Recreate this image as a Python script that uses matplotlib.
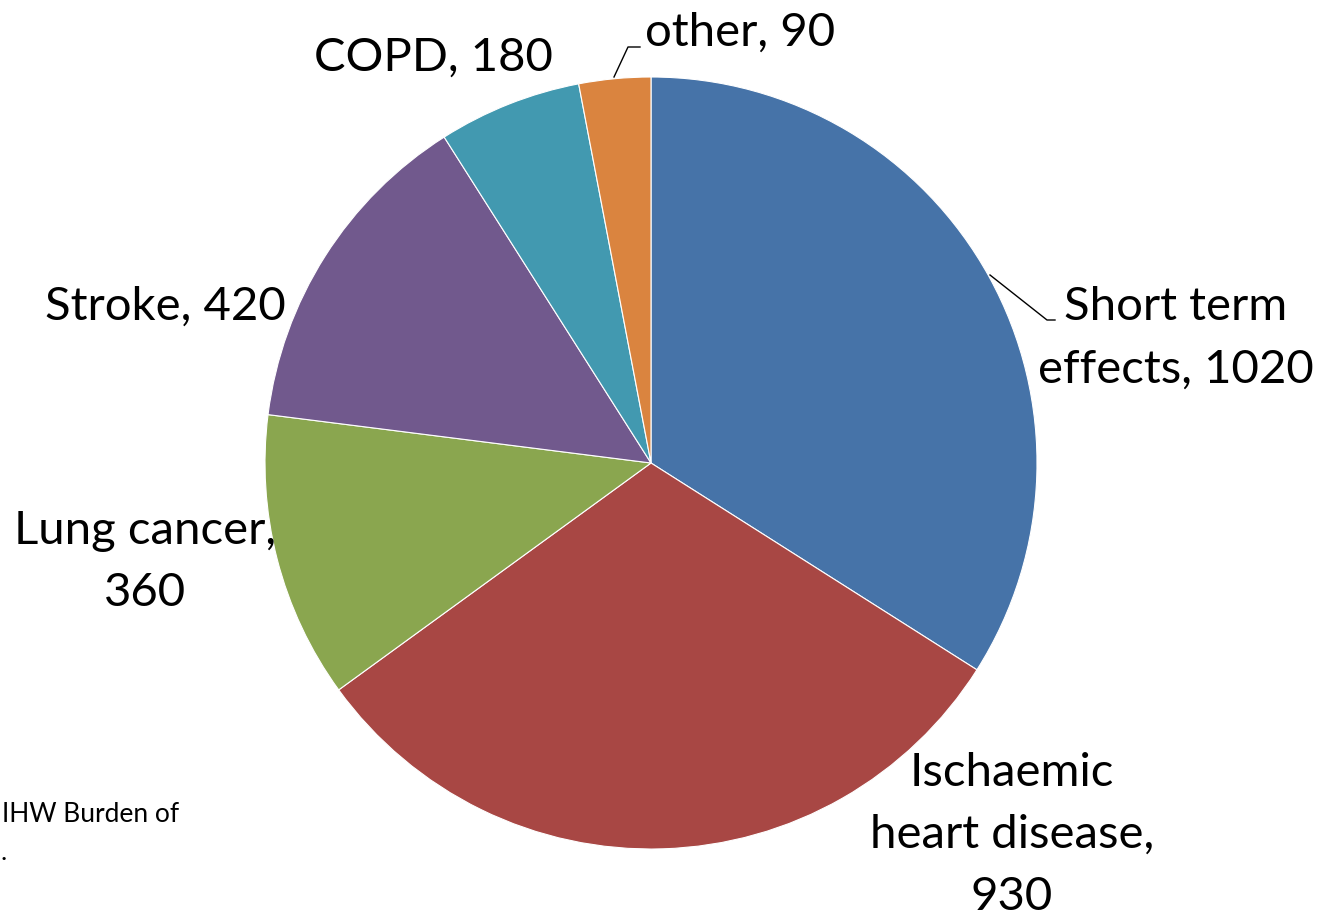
import matplotlib.pyplot as plt

plt.rcParams['font.family'] = ['Lato', 'DejaVu Sans']

# Data (clockwise from 12 o'clock)
labels = ['Short term\neffects, 1020', 'Ischaemic\nheart disease,\n930', 'Lung cancer,\n360',
          'Stroke, 420', 'COPD, 180', 'other, 90']
values = [1020, 930, 360, 420, 180, 90]
colors = ['#4673A8', '#A84744', '#8AA64F', '#71598D', '#4299B0', '#DA843F']

W, H = 1319, 921
fig = plt.figure(figsize=(W / 100, H / 100), dpi=100)
ax = fig.add_axes([0, 0, 1, 1])


def y(v):
    # image rows -> data y
    return H - v


ax.pie(values, colors=colors, startangle=90, counterclock=False,
       center=(651, y(463)), radius=386, frame=True,
       wedgeprops=dict(edgecolor='white', linewidth=0.8))
ax.set_xlim(0, W)
ax.set_ylim(0, H)
ax.set_aspect('equal')
ax.axis('off')

fs = 34
ls = 1.6
# label positions (image pixels)
ax.text(1176, y(338), labels[0], ha='center', va='center', fontsize=fs, linespacing=ls)
ax.text(1012, y(835), labels[1], ha='center', va='center', fontsize=fs, linespacing=ls)
ax.text(145, y(562), labels[2], ha='center', va='center', fontsize=fs, linespacing=ls)
ax.text(165, y(307), labels[3], ha='center', va='center', fontsize=fs)
ax.text(433, y(58), labels[4], ha='center', va='center', fontsize=fs)
ax.text(740, y(33), labels[5], ha='center', va='center', fontsize=fs)

# leader lines
ax.plot([990, 1047, 1055], [y(275), y(320), y(320)], color='black', lw=1)
ax.plot([614, 628, 640], [y(77), y(47), y(47)], color='black', lw=1)

# source note (cut off at the left edge in the original)
ax.text(2, y(815), 'IHW Burden of', ha='left', va='center', fontsize=19)
ax.text(0, y(852), '.', ha='left', va='center', fontsize=19)

fig.savefig('out.png', dpi=100)
